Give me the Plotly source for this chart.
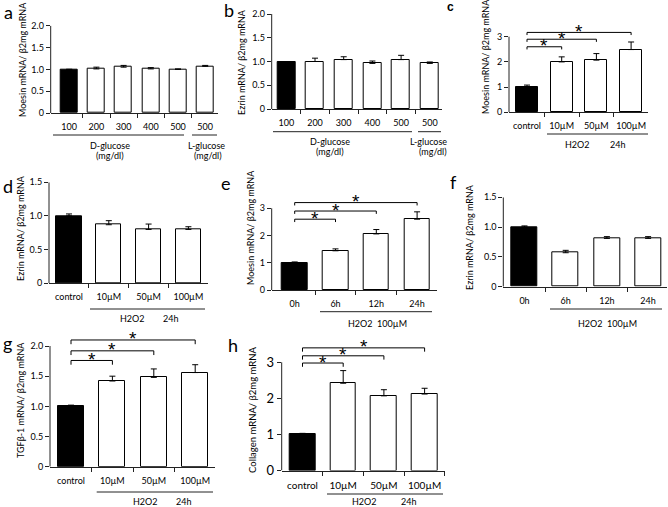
import plotly.graph_objects as go

W, H = 668, 507
FONT = "Lato"

# ---------------- data ----------------
a_cats = ["100", "200", "300", "400", "500", "500"]
a_vals = [1.00, 1.01, 1.05, 1.01, 1.00, 1.07]
a_errs = [0.00, 0.04, 0.04, 0.03, 0.01, 0.02]

b_cats = ["100", "200", "300", "400", "500", "500"]
b_vals = [1.00, 1.00, 1.04, 0.96, 1.04, 0.96]
b_errs = [0.00, 0.07, 0.06, 0.05, 0.09, 0.03]

c_cats = ["control", "10µM", "50µM", "100µM"]
c_vals = [1.02, 2.00, 2.07, 2.49]
c_errs = [0.06, 0.20, 0.26, 0.30]

d_cats = ["control", "10µM", "50µM", "100µM"]
d_vals = [1.00, 0.87, 0.80, 0.80]
d_errs = [0.03, 0.06, 0.08, 0.04]

e_cats = ["0h", "6h", "12h", "24h"]
e_vals = [1.00, 1.44, 2.06, 2.60]
e_errs = [0.03, 0.07, 0.16, 0.27]

f_cats = ["0h", "6h", "12h", "24h"]
f_vals = [1.00, 0.57, 0.81, 0.81]
f_errs = [0.02, 0.04, 0.03, 0.03]

g_cats = ["control", "10µM", "50µM", "100µM"]
g_vals = [1.00, 1.42, 1.48, 1.56]
g_errs = [0.02, 0.08, 0.14, 0.13]

h_cats = ["control", "10µM", "50µM", "100µM"]
h_vals = [1.01, 2.42, 2.07, 2.12]
h_errs = [0.02, 0.35, 0.17, 0.16]

# significance comparisons (pairs of category indices) and bracket levels
c_pairs = [(0, 1), (0, 2), (0, 3)]
c_levels = [2.60, 2.90, 3.17]
e_pairs = [(0, 1), (0, 2), (0, 3)]
e_levels = [2.60, 2.90, 3.21]
g_pairs = [(0, 1), (0, 2), (0, 3)]
g_levels = [1.76, 1.92, 2.10]
h_pairs = [(0, 1), (0, 2), (0, 3)]
h_levels = [2.98, 3.18, 3.40]

a_yticks = [0, 0.5, 1.0, 1.5, 2.0]
c_yticks = [0, 1, 2, 3]
d_yticks = [0, 0.5, 1.0, 1.5]
h_yticks = [0, 1, 2, 3]


def fmt(v):
    return "0" if v == 0 else (f"{v:.1f}" if isinstance(v, float) else str(v))


# ---------------- panel geometry (pixels) ----------------
panels = [
    dict(letter="a", cats=a_cats, vals=a_vals, errs=a_errs, yticks=a_yticks,
         x0=50.7, x1=218, c0=69.2, s=27.2, y0=113, yt=25.7, domtop=25.7,
         ytitle="Moesin mRNA/ β2mg mRNA", tpos=(23, 60), lpos=(8, 12),
         pairs=[], levels=[],
         glines=[(53, 184, 135), (192, 217, 135)],
         gtexts=[("D-glucose", 110, 145.7), ("(mg/dl)", 110, 155.5),
                 ("L-glucose", 206, 145.7), ("(mg/dl)", 208, 155.5)]),
    dict(letter="b", cats=b_cats, vals=b_vals, errs=b_errs, yticks=a_yticks,
         x0=271.7, x1=441.7, c0=286.3, s=28.7, y0=109, yt=14, domtop=14,
         ytitle="Ezrin mRNA/ β2mg mRNA", tpos=(242, 62), lpos=(229, 10),
         pairs=[], levels=[],
         glines=[(273, 412, 131.7), (418, 441, 131.7)],
         gtexts=[("D-glucose", 330, 141.7), ("(mg/dl)", 330, 151.7),
                 ("L-glucose", 428, 141.7), ("(mg/dl)", 433, 151.7)]),
    dict(letter="c", cats=c_cats, vals=c_vals, errs=c_errs, yticks=c_yticks,
         x0=509, x1=648, c0=527, s=34.7, y0=112.3, yt=36.7, domtop=20,
         ytitle="Moesin mRNA/ β2mg mRNA", tpos=(485, 57), lpos=(450, 7),
         pairs=c_pairs, levels=c_levels,
         glines=[(547, 648, 134)],
         gtexts=[("H2O2", 577, 144), ("24h", 617, 144)]),
    dict(letter="d", cats=d_cats, vals=d_vals, errs=d_errs, yticks=d_yticks,
         x0=49, x1=208, c0=69, s=39.8, y0=283.3, yt=182.3, domtop=182.3,
         ytitle="Ezrin mRNA/ β2mg mRNA", tpos=(20, 228), lpos=(8, 186),
         pairs=[], levels=[],
         glines=[(90, 205, 309)],
         gtexts=[("H2O2", 132, 318), ("24h", 170, 318)]),
    dict(letter="e", cats=e_cats, vals=e_vals, errs=e_errs, yticks=c_yticks,
         x0=271.7, x1=437, c0=294.7, s=40.8, y0=290, yt=208.3, domtop=190,
         ytitle="Moesin mRNA/ β2mg mRNA", tpos=(250, 228), lpos=(226, 183),
         pairs=e_pairs, levels=e_levels,
         glines=[(320, 432, 311.7)],
         gtexts=[("H2O2  100µM", 377, 323)]),
    dict(letter="f", cats=f_cats, vals=f_vals, errs=f_errs, yticks=d_yticks,
         x0=503.3, x1=667, c0=524.5, s=41.2, y0=286.7, yt=197.3, domtop=197.3,
         ytitle="Ezrin mRNA/ β2mg mRNA", tpos=(470, 237), lpos=(453, 182),
         pairs=[], levels=[],
         glines=[(550, 662, 309)],
         gtexts=[("H2O2  100µM", 607, 323)]),
    dict(letter="g", cats=g_cats, vals=g_vals, errs=g_errs, yticks=a_yticks,
         x0=50, x1=215, c0=71, s=41.4, y0=466.7, yt=346, domtop=330,
         ytitle="TGFβ-1 mRNA/ β2mg mRNA", tpos=(20, 400), lpos=(7, 343),
         pairs=g_pairs, levels=g_levels,
         glines=[(96.7, 213, 492)],
         gtexts=[("H2O2", 145, 501), ("24h", 183, 501)]),
    dict(letter="h", cats=h_cats, vals=h_vals, errs=h_errs, yticks=h_yticks,
         x0=281.7, x1=445, c0=302.5, s=40.7, y0=470.5, yt=362.3, domtop=340,
         ytitle="Collagen mRNA/ β2mg mRNA", tpos=(252, 410), lpos=(233, 345),
         pairs=h_pairs, levels=h_levels,
         glines=[(327, 443, 494)],
         gtexts=[("H2O2", 365, 501), ("24h", 408, 501)]),
]


def px(p):
    return p / W


def py(p):
    return 1 - p / H


fig = go.Figure()
shapes = []
annotations = []
layout_axes = {}
AX = "#222222"

for i, p in enumerate(panels, start=1):
    xa = "x" if i == 1 else f"x{i}"
    ya = "y" if i == 1 else f"y{i}"
    n = len(p["vals"])
    xs = list(range(n))
    colors = ["black"] + ["white"] * (n - 1)
    fig.add_trace(go.Bar(
        x=xs, y=p["vals"], width=0.63, xaxis=xa, yaxis=ya,
        marker=dict(color=colors, line=dict(color="black", width=1)),
        error_y=dict(type="data", array=p["errs"], arrayminus=[0] * n,
                     symmetric=False, color="black", thickness=1, width=3),
        showlegend=False, hoverinfo="skip"))

    top_tick = p["yticks"][-1]
    ppu = (p["y0"] - p["yt"]) / top_tick
    rtop = (p["y0"] - p["domtop"]) / ppu
    xr = [(p["x0"] - p["c0"]) / p["s"], (p["x1"] - p["c0"]) / p["s"]]

    big = p["letter"] == "h"
    layout_axes["xaxis" if i == 1 else f"xaxis{i}"] = dict(
        domain=[px(p["x0"]), px(p["x1"])], range=xr, anchor=ya,
        automargin=False,
        tickmode="array", tickvals=xs, ticktext=p["cats"], ticks="",
        ticklabelstandoff=5,
        showline=True, linecolor=AX, linewidth=1, showgrid=False,
        zeroline=False, fixedrange=True,
        tickfont=dict(family=FONT, size=10 if big else 9, color="black"),
        minor=dict(tickmode="array", tickvals=[k + 0.5 for k in range(n)],
                   ticks="outside", ticklen=4, tickcolor=AX, tickwidth=1,
                   showgrid=False))
    layout_axes["yaxis" if i == 1 else f"yaxis{i}"] = dict(
        domain=[py(p["y0"]), py(p["domtop"])], range=[0, rtop], anchor=xa,
        automargin=False,
        tickmode="array", tickvals=p["yticks"],
        ticktext=[fmt(v) for v in p["yticks"]],
        ticks="outside", ticklen=4, tickcolor=AX, tickwidth=1,
        showline=False, showgrid=False, zeroline=False, fixedrange=True,
        tickfont=dict(family=FONT, size=13 if big else 9, color="black"))

    # y axis line up to the top tick
    shapes.append(dict(type="line", xref=f"{xa} domain", yref=ya,
                       x0=0, x1=0, y0=0, y1=top_tick,
                       line=dict(color=AX, width=1)))

    # significance brackets
    drop = 0.035 * top_tick
    for (a, b), lev in zip(p["pairs"], p["levels"]):
        shapes.append(dict(type="path", xref=xa, yref=ya,
                           path=f"M {a},{lev - drop} L {a},{lev} L {b},{lev} L {b},{lev - drop}",
                           line=dict(color="black", width=1)))
        annotations.append(dict(x=(a + b) / 2, y=lev, xref=xa, yref=ya,
                                text="*", showarrow=False, yanchor="middle",
                                yshift=1,
                                font=dict(family="Liberation Sans", size=19, color="black")))

    # group lines and texts
    for (gx0, gx1, gy) in p["glines"]:
        shapes.append(dict(type="line", xref="paper", yref="paper",
                           x0=px(gx0), x1=px(gx1), y0=py(gy), y1=py(gy),
                           line=dict(color=AX, width=1)))
    for (t, tx, ty) in p["gtexts"]:
        annotations.append(dict(x=px(tx), y=py(ty), xref="paper", yref="paper",
                                text=t, showarrow=False, xanchor="center",
                                yanchor="middle",
                                font=dict(family=FONT, size=9, color="black")))

    # y title
    annotations.append(dict(x=px(p["tpos"][0]), y=py(p["tpos"][1]),
                            xref="paper", yref="paper", text=p["ytitle"],
                            textangle=-90, showarrow=False,
                            xanchor="center", yanchor="middle",
                            font=dict(family=FONT, size=9.5 if big else 9, color="black")))

    # panel letter
    if p["letter"] == "c":
        lf = dict(family="Liberation Sans", size=12, color="black")
        ltxt = "<b>c</b>"
    else:
        lf = dict(family=FONT, size=18, color="black")
        ltxt = p["letter"]
    annotations.append(dict(x=px(p["lpos"][0]), y=py(p["lpos"][1]),
                            xref="paper", yref="paper", text=ltxt,
                            showarrow=False, xanchor="center", yanchor="middle",
                            font=lf))

fig.update_layout(
    template="none",
    width=W, height=H, margin=dict(l=0, r=0, t=0, b=0, pad=0),
    paper_bgcolor="white", plot_bgcolor="white",
    shapes=shapes, annotations=annotations, bargap=0,
    **layout_axes)

fig.write_html(
    "out.html",
    config={"displayModeBar": False},
    post_script="document.body.style.margin='0';document.body.style.padding='0';"
                "document.body.style.overflow='hidden';")
